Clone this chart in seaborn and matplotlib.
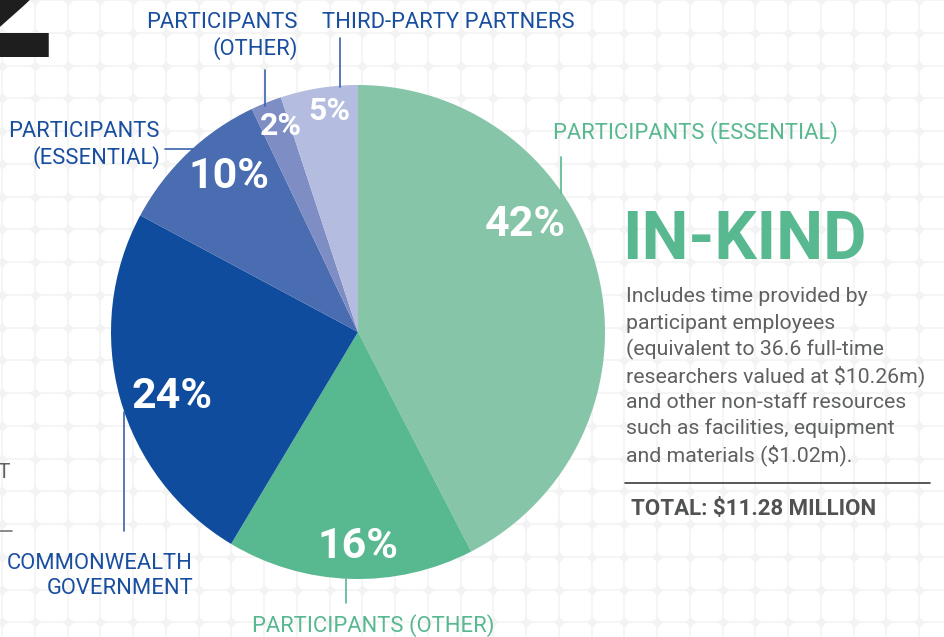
import numpy as np
import matplotlib
matplotlib.use('Agg')
import matplotlib.pyplot as plt
import seaborn as sns

# data
shares = [42, 16, 24, 10, 2, 5]
pct_labels = ['42%', '16%', '24%', '10%', '2%', '5%']
slice_colors = ['#86C5A7', '#58B88F', '#0F4C9E', '#4A6CB0', '#7F8DC5', '#B4BDE0']
body_lines = ['Includes time provided by',
              'participant employees',
              '(equivalent to 36.6 full-time',
              'researchers valued at $10.26m)',
              'and other non-staff resources',
              'such as facilities, equipment',
              'and materials ($1.02m).']

sns.set_style('white')
plt.rcParams['font.family'] = ['Roboto', 'DejaVu Sans']

BLUE = '#1A4FA0'
GREEN = '#58B88F'
GREY = '#5E6061'
LAB = 15.8

fig = plt.figure(figsize=(9.44, 6.37), dpi=100)
ax = fig.add_axes([0, 0, 1, 1])

# faint background lattice
step = 32.75
xs = np.arange(2, 944, step)
ys = np.arange(0, 637, step)
for x in xs:
    ax.axvline(x, color='#F4F5F4', lw=1.4, zorder=0)
for y in ys:
    ax.axhline(y, color='#F4F5F4', lw=1.4, zorder=0)
gx, gy = np.meshgrid(xs, ys)
ax.scatter(gx.ravel(), gy.ravel(), marker='D', s=30, color='#F2F3F2', lw=0, zorder=0.5)

# pie (y axis is flipped, so counterclock=True draws clockwise on screen)
wedges, _ = ax.pie(shares, colors=slice_colors, startangle=-90, counterclock=True,
                   center=(358, 332), radius=247, wedgeprops=dict(lw=0))
for w in wedges:
    w.set_zorder(2)

ax.set_xlim(0, 944)
ax.set_ylim(637, 0)
ax.set_aspect('equal')
ax.axis('off')

# percentage labels
pct_pos = [(525, 224), (358, 546), (172, 396), (229, 177), (281, 126), (329, 111)]
pct_size = [31, 31, 31, 31, 23, 23]
for t, (x, y), s in zip(pct_labels, pct_pos, pct_size):
    ax.text(x, y, t, color='white', fontsize=s, fontweight='bold',
            ha='center', va='center', zorder=3)

# category labels + leader lines
ax.text(553, 133, 'PARTICIPANTS (ESSENTIAL)', color=GREEN, fontsize=LAB, ha='left', va='center')
ax.plot([561, 561], [157, 193], color=GREEN, lw=1.2, zorder=3)

ax.text(373, 626, 'PARTICIPANTS (OTHER)', color=GREEN, fontsize=LAB, ha='center', va='center')
ax.plot([346, 346], [579, 603], color=GREEN, lw=1.2, zorder=3)

ax.text(193, 576, 'COMMONWEALTH\nGOVERNMENT', color=BLUE, fontsize=LAB, ha='right',
        va='center', multialignment='right', linespacing=1.25)
ax.plot([124, 124], [412, 531], color='#3A62AE', lw=1.2, zorder=3)

ax.text(160, 145, 'PARTICIPANTS\n(ESSENTIAL)', color=BLUE, fontsize=LAB, ha='right',
        va='center', multialignment='right', linespacing=1.25)
ax.plot([165, 193], [149, 149], color='#3A62AE', lw=1.2, zorder=3)

ax.text(298, 36, 'PARTICIPANTS\n(OTHER)', color=BLUE, fontsize=LAB, ha='right',
        va='center', multialignment='right', linespacing=1.25)
ax.plot([265, 265], [70, 106], color='#3A62AE', lw=1.2, zorder=3)

ax.text(322, 22, 'THIRD-PARTY PARTNERS', color=BLUE, fontsize=LAB, ha='left', va='center')
ax.plot([340, 340], [38, 87], color='#3A62AE', lw=1.2, zorder=3)

# right-hand panel
ax.text(622, 241, 'IN-KIND', color=GREEN, fontsize=48, fontweight='bold',
        ha='left', va='center')
for i, line in enumerate(body_lines):
    ax.text(626, 297 + i * 26.3, line, color=GREY, fontsize=15.3, ha='left', va='center')
ax.plot([625, 930], [483, 483], color='#3C3C3C', lw=1.2)
ax.text(631, 509, 'TOTAL: $11.28 MILLION', color='#505253', fontsize=16, fontweight='bold',
        ha='left', va='center')

# fragments at the left edge
ax.text(63, 57, '2', color='#1E1E1E', fontsize=125, fontweight='bold', ha='right',
        va='baseline', family='DejaVu Sans', zorder=3)
ax.text(-2, 472, 'T', color=GREY, fontsize=15, ha='left', va='center')
ax.plot([0, 12], [531, 531], color='#777777', lw=1.2)

fig.savefig('out.png', dpi=100)
